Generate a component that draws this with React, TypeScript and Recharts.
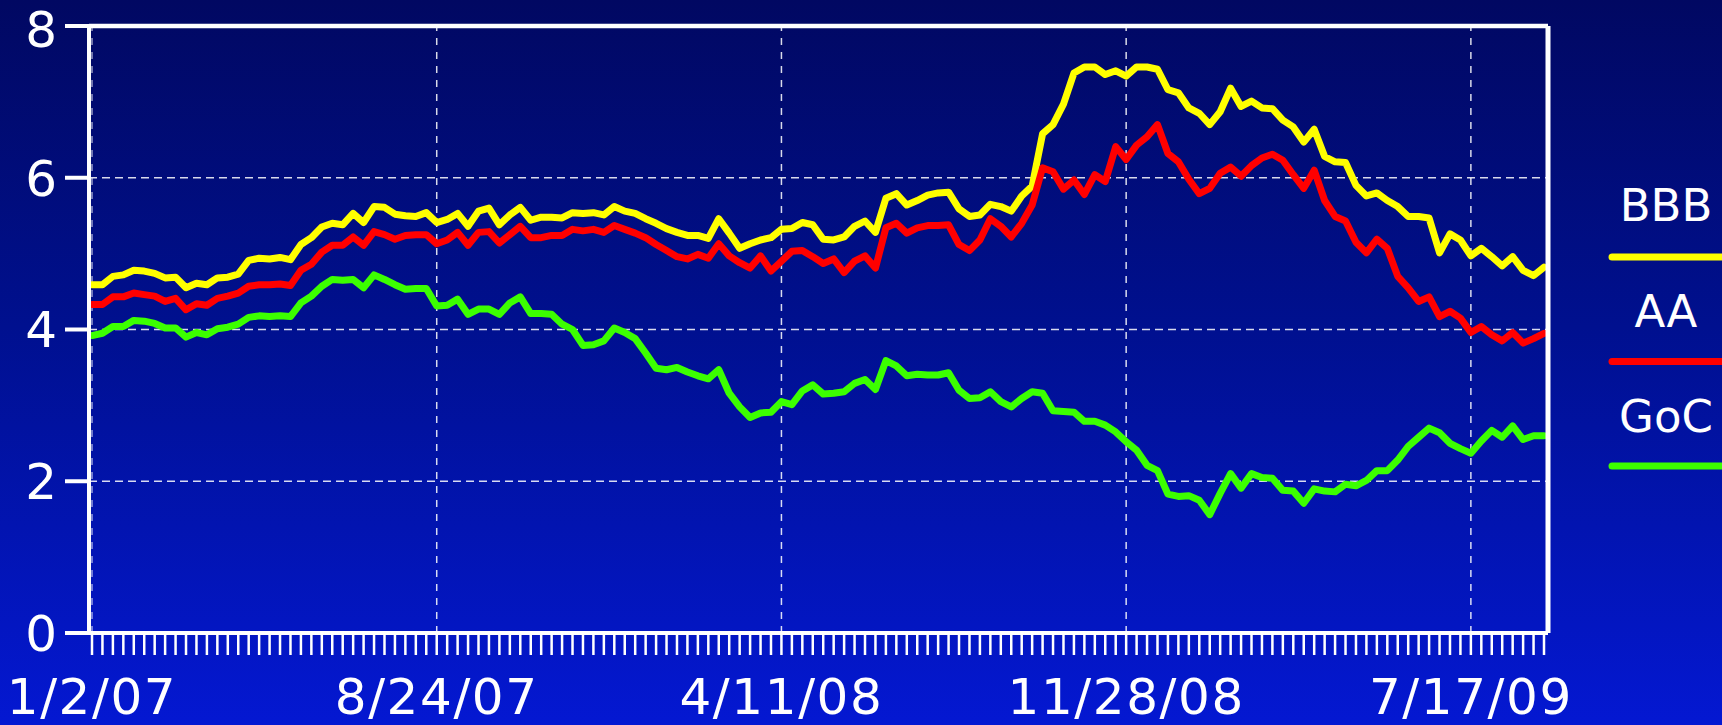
import {
  LineChart,
  Line,
  XAxis,
  YAxis,
  CartesianGrid,
  ReferenceLine,
} from "recharts";

// weekly spreads, 1/2/07 .. 9/09
const BBB = [
  4.59, 4.59, 4.70, 4.72, 4.78, 4.77, 4.74, 4.68, 4.69, 4.55,
  4.61, 4.59, 4.68, 4.69, 4.73, 4.91, 4.94, 4.93, 4.95, 4.92,
  5.12, 5.21, 5.35, 5.40, 5.38, 5.53, 5.41, 5.62, 5.61, 5.52,
  5.50, 5.49, 5.54, 5.41, 5.45, 5.53, 5.36, 5.56, 5.60, 5.38,
  5.51, 5.61, 5.44, 5.48, 5.48, 5.47, 5.54, 5.53, 5.54, 5.51,
  5.62, 5.56, 5.53, 5.46, 5.40, 5.33, 5.28, 5.24, 5.24, 5.20,
  5.46, 5.27, 5.07, 5.13, 5.18, 5.21, 5.32, 5.33, 5.41, 5.38,
  5.19, 5.18, 5.22, 5.36, 5.43, 5.28, 5.73, 5.79, 5.64, 5.70,
  5.77, 5.80, 5.81, 5.59, 5.49, 5.51, 5.65, 5.62, 5.56, 5.76,
  5.89, 6.58, 6.70, 6.97, 7.38, 7.46, 7.46, 7.36, 7.41, 7.34,
  7.46, 7.46, 7.43, 7.16, 7.12, 6.92, 6.85, 6.70, 6.87, 7.18,
  6.94, 7.01, 6.92, 6.91, 6.76, 6.67, 6.47, 6.64, 6.28, 6.21,
  6.20, 5.90, 5.76, 5.80, 5.70, 5.62, 5.49, 5.49, 5.47, 5.01,
  5.26, 5.18, 4.97, 5.07, 4.96, 4.84, 4.96, 4.78, 4.71, 4.82,
];

const AA = [
  4.33, 4.33, 4.43, 4.43, 4.48, 4.46, 4.44, 4.37, 4.41, 4.26,
  4.34, 4.32, 4.41, 4.44, 4.48, 4.57, 4.59, 4.59, 4.60, 4.58,
  4.78, 4.86, 5.02, 5.11, 5.11, 5.22, 5.11, 5.29, 5.25, 5.19,
  5.24, 5.25, 5.25, 5.13, 5.18, 5.28, 5.11, 5.28, 5.29, 5.14,
  5.25, 5.36, 5.21, 5.21, 5.24, 5.24, 5.32, 5.30, 5.32, 5.28,
  5.37, 5.32, 5.27, 5.21, 5.12, 5.04, 4.96, 4.93, 4.99, 4.94,
  5.13, 4.97, 4.88, 4.81, 4.97, 4.77, 4.90, 5.03, 5.04, 4.96,
  4.87, 4.93, 4.75, 4.90, 4.97, 4.81, 5.34, 5.40, 5.27, 5.34,
  5.37, 5.37, 5.38, 5.12, 5.04, 5.18, 5.46, 5.36, 5.22, 5.40,
  5.64, 6.13, 6.08, 5.85, 5.97, 5.78, 6.04, 5.95, 6.41, 6.24,
  6.43, 6.54, 6.70, 6.32, 6.21, 5.98, 5.79, 5.86, 6.06, 6.14,
  6.02, 6.16, 6.26, 6.31, 6.23, 6.04, 5.86, 6.10, 5.70, 5.49,
  5.43, 5.15, 5.01, 5.19, 5.07, 4.70, 4.55, 4.37, 4.43, 4.17,
  4.24, 4.15, 3.96, 4.04, 3.93, 3.85, 3.96, 3.82, 3.88, 3.95,
];

const GOC = [
  3.92, 3.95, 4.04, 4.04, 4.12, 4.11, 4.08, 4.02, 4.02, 3.90,
  3.96, 3.93, 4.01, 4.03, 4.07, 4.16, 4.18, 4.17, 4.18, 4.17,
  4.35, 4.44, 4.57, 4.66, 4.65, 4.66, 4.55, 4.72, 4.66, 4.59,
  4.53, 4.54, 4.54, 4.31, 4.32, 4.40, 4.20, 4.27, 4.27, 4.20,
  4.35, 4.43, 4.21, 4.21, 4.20, 4.07, 4.00, 3.79, 3.80, 3.85,
  4.02, 3.96, 3.88, 3.69, 3.49, 3.47, 3.50, 3.44, 3.39, 3.35,
  3.47, 3.16, 2.98, 2.84, 2.90, 2.91, 3.05, 3.01, 3.19, 3.27,
  3.15, 3.16, 3.18, 3.29, 3.34, 3.21, 3.59, 3.52, 3.39, 3.41,
  3.40, 3.40, 3.43, 3.20, 3.09, 3.10, 3.18, 3.05, 2.98, 3.09,
  3.18, 3.16, 2.93, 2.92, 2.91, 2.79, 2.79, 2.74, 2.65, 2.52,
  2.41, 2.21, 2.14, 1.83, 1.80, 1.81, 1.75, 1.56, 1.84, 2.10,
  1.91, 2.10, 2.05, 2.04, 1.88, 1.87, 1.71, 1.90, 1.87, 1.86,
  1.96, 1.94, 2.01, 2.14, 2.14, 2.28, 2.46, 2.58, 2.70, 2.64,
  2.50, 2.43, 2.37, 2.53, 2.67, 2.58, 2.73, 2.55, 2.60, 2.60,
];

const TICK_LABELS = ["1/2/07", "8/24/07", "4/11/08", "11/28/08", "7/17/09"];
const Y_TICKS = [0, 2, 4, 6, 8];

// first point is 1/2/07, then weekly Fridays from 1/12/07
const WEEKLY_START = new Date(2007, 0, 12);
const DATES = BBB.map((_, i) => {
  if (i === 0) return TICK_LABELS[0];
  const d = new Date(WEEKLY_START);
  d.setDate(d.getDate() + 7 * (i - 1));
  return `${d.getMonth() + 1}/${d.getDate()}/${String(d.getFullYear()).slice(2)}`;
});

const SERIES = [
  { key: "bbb", name: "BBB", color: "#ffff00" },
  { key: "aa", name: "AA", color: "#ff0000" },
  { key: "goc", name: "GoC", color: "#3cff00" },
];

const data = DATES.map((date, i) => ({
  date,
  bbb: BBB[i],
  aa: AA[i],
  goc: GOC[i],
}));

const FONT = "DejaVu Sans, Verdana, sans-serif";

function DateTick(props: any) {
  const { x, y, payload } = props;
  const show = TICK_LABELS.includes(payload.value);
  return (
    <g>
      <line x1={x} x2={x} y1={y - 22} y2={y} stroke="#ffffff" strokeWidth={2.5} />
      {show && (
        <text
          x={x}
          y={y + 59}
          textAnchor="middle"
          fill="#ffffff"
          fontSize={50}
          letterSpacing={1.6}
          fontFamily={FONT}
        >
          {payload.value}
        </text>
      )}
    </g>
  );
}

function LegendBox() {
  return (
    <svg
      width={132}
      height={340}
      style={{ position: "absolute", left: 1590, top: 150, overflow: "visible" }}
    >
      {SERIES.map((s, k) => (
        <g key={s.key}>
          <text
            x={76}
            y={71 + 105.5 * k}
            textAnchor="middle"
            fill="#ffffff"
            fontSize={45}
            fontFamily={FONT}
          >
            {s.name}
          </text>
          <line
            x1={22}
            x2={150}
            y1={107 + 104.5 * k}
            y2={107 + 104.5 * k}
            stroke={s.color}
            strokeWidth={7}
            strokeLinecap="round"
          />
        </g>
      ))}
    </svg>
  );
}

export default function App() {
  return (
    <div
      style={{
        position: "absolute",
        left: 0,
        top: 0,
        width: 1722,
        height: 725,
        overflow: "hidden",
        background: "linear-gradient(to bottom, #010862 0%, #00108f 45%, #0418d2 100%)",
      }}
    >
      <LineChart
        width={1722}
        height={725}
        data={data}
        margin={{ top: 25, right: 173, bottom: 0, left: 0 }}
      >
        <CartesianGrid
          vertical={false}
          stroke="#ffffff"
          strokeOpacity={0.85}
          strokeWidth={1.5}
          strokeDasharray="8 5"
        />
        <XAxis
          dataKey="date"
          interval={0}
          height={92}
          padding={{ left: 3, right: 4 }}
          axisLine={{ stroke: "#ffffff", strokeWidth: 4 }}
          tickLine={false}
          tickSize={22}
          tickMargin={0}
          tick={<DateTick />}
        />
        <XAxis
          xAxisId="top"
          orientation="top"
          dataKey="date"
          height={1}
          tick={false}
          tickLine={false}
          axisLine={{ stroke: "#ffffff", strokeWidth: 4.5 }}
        />
        <YAxis
          domain={[0, 8]}
          ticks={Y_TICKS}
          width={89}
          axisLine={{ stroke: "#ffffff", strokeWidth: 4 }}
          tickLine={{ stroke: "#ffffff", strokeWidth: 4 }}
          tickSize={24}
          tickMargin={8}
          tick={{ fill: "#ffffff", fontSize: 50, fontFamily: FONT }}
        />
        <YAxis
          yAxisId="right"
          orientation="right"
          domain={[0, 8]}
          width={1}
          tick={false}
          tickLine={false}
          axisLine={{ stroke: "#ffffff", strokeWidth: 5 }}
        />
        {TICK_LABELS.map((label, i) => (
          <ReferenceLine
            key={label}
            x={label}
            stroke="#ffffff"
            strokeOpacity={i === 0 ? 0.6 : 0.85}
            strokeWidth={1.5}
            strokeDasharray="7 7"
          />
        ))}
        {SERIES.map((s) => (
          <Line
            key={s.key}
            type="linear"
            dataKey={s.key}
            name={s.name}
            stroke={s.color}
            strokeWidth={7}
            strokeLinejoin="round"
            strokeLinecap="round"
            dot={false}
            activeDot={false}
            isAnimationActive={false}
          />
        ))}
      </LineChart>
      <LegendBox />
    </div>
  );
}
